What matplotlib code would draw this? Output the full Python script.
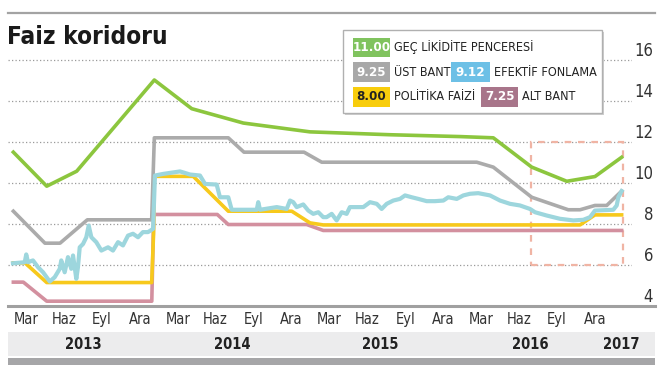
import matplotlib
matplotlib.use("Agg")
import matplotlib.pyplot as plt
import matplotlib.transforms as mtransforms
from matplotlib.patches import Rectangle

# x values are months since January 2013 (2.0 = March 2013)
gec_x = [1.0, 3.64, 6.01, 12.15, 15.11, 19.19, 24.46, 30.79, 36.33, 38.96, 42.0, 44.77, 47.0, 49.11]
gec_y = [11.48, 9.82, 10.55, 15.0, 13.6, 12.9, 12.47, 12.33, 12.24, 12.18, 10.75, 10.06, 10.29, 11.23]

ust_x = [1.0, 3.5, 4.69, 6.85, 11.94, 12.15, 18.0, 19.24, 23.99, 25.39, 37.65, 38.96, 42.0, 44.89, 45.82, 47.0, 47.93, 49.11]
ust_y = [8.6, 7.04, 7.04, 8.18, 8.18, 12.18, 12.18, 11.48, 11.48, 10.99, 10.99, 10.75, 9.28, 8.67, 8.67, 8.88, 8.88, 9.58]

pol_x = [1.0, 1.92, 3.64, 11.94, 12.09, 12.15, 15.23, 18.0, 23.02, 24.46, 25.51, 45.82, 47.0, 49.11]
pol_y = [6.08, 6.08, 5.12, 5.12, 7.5, 10.3, 10.3, 8.6, 8.6, 8.03, 7.93, 7.93, 8.42, 8.42]

alt_x = [1.0, 1.79, 3.64, 11.95, 12.1, 17.13, 18.0, 24.2, 25.51, 49.11]
alt_y = [5.14, 5.14, 4.21, 4.21, 8.44, 8.44, 7.95, 7.95, 7.66, 7.66]

efk_x = [0.97, 1.90, 2.02, 2.16, 2.55, 2.95, 3.35, 3.88, 4.27, 4.67, 4.79, 5.06, 5.32, 5.58,
         5.72, 5.98, 6.11, 6.25, 6.51, 6.77, 6.96, 7.17, 7.56, 7.96, 8.49, 8.88, 9.28, 9.67,
         10.07, 10.46, 10.86, 11.25, 11.65, 12.05, 12.2, 12.86, 14.18, 14.97, 15.76, 16.16,
         17.08, 17.34, 18.0, 18.27, 20.25, 20.37, 20.51, 21.83, 22.62, 22.88, 23.14, 23.41,
         23.93, 24.33, 24.72, 25.12, 25.51, 25.78, 26.18, 26.57, 26.97, 27.36, 27.62, 28.15,
         28.68, 29.21, 29.74, 30.13, 30.53, 31.05, 31.58, 31.98, 32.51, 33.03, 33.69, 34.35,
         35.01, 35.40, 36.07, 36.59, 37.12, 37.77, 38.70, 39.49, 40.28, 41.07, 41.86, 42.26,
         43.18, 44.23, 45.29, 46.08, 46.61, 47.0, 48.45, 48.72, 48.85, 49.11]
efk_y = [6.06, 6.11, 6.49, 6.11, 6.2, 5.87, 5.62, 5.17, 5.38, 5.79, 6.2, 5.62, 6.36, 5.79,
         6.44, 5.3, 5.87, 6.84, 7.0, 7.33, 7.9, 7.33, 7.09, 6.68, 6.84, 6.68, 7.09, 6.93,
         7.41, 7.5, 7.33, 7.58, 7.58, 7.74, 10.34, 10.42, 10.54, 10.39, 10.34, 9.93,
         9.9, 9.28, 9.28, 8.67, 8.67, 9.04, 8.67, 8.8, 8.71, 9.12, 9.04, 8.8,
         8.93, 8.63, 8.47, 8.55, 8.31, 8.31, 8.47, 8.15, 8.55, 8.47, 8.8, 8.8,
         8.8, 9.04, 8.96, 8.71, 8.96, 9.12, 9.2, 9.37, 9.28, 9.2, 9.09, 9.09,
         9.12, 9.28, 9.2, 9.37, 9.45, 9.48, 9.37, 9.12, 8.96, 8.88, 8.71, 8.55,
         8.39, 8.23, 8.15, 8.18, 8.31, 8.63, 8.67, 8.88, 9.28, 9.58]

month_pos = [2, 5, 8, 11, 14, 17, 20, 23, 26, 29, 32, 35, 38, 41, 44, 47]
month_labels = ["Mar", "Haz", "Eyl", "Ara"] * 4
year_pos = [6.5, 18.3, 30.05, 41.9, 49.05]
year_labels = ["2013", "2014", "2015", "2016", "2017"]
y_ticks = [4, 6, 8, 10, 12, 14, 16]

legend_rows = [
    [("11.00", "GEÇ LİKİDİTE PENCERESİ", "#80c35e", "white")],
    [("9.25", "ÜST BANT", "#a8a8a8", "white"), ("9.12", "EFEKTİF FONLAMA", "#6dc0e6", "white")],
    [("8.00", "POLİTİKA FAİZİ", "#f8cd0c", "#222222"), ("7.25", "ALT BANT", "#a8758a", "white")],
]

FONT = "DejaVu Sans"
STRETCH = "condensed"
W, H = 666, 383


def fx(x):
    return x / W


def fy(y):
    return 1 - y / H


fig = plt.figure(figsize=(6.66, 3.83), dpi=100)
ax = fig.add_axes([fx(8), fy(305.5), (632 - 8) / W, 256.25 / H])
ax.set_xlim(0.577, 49.93)
ax.set_ylim(4, 16.5)
ax.set_frame_on(False)
ax.set_yticks([])

for v in y_ticks[1:]:
    ax.axhline(v, color="#9a9a9a", lw=0.9, ls=(0, (1, 1.8)), zorder=1)

ax.plot(alt_x, alt_y, color="#d3909f", lw=2.6, zorder=3, solid_joinstyle="round")
ax.plot(pol_x, pol_y, color="#f7c91c", lw=2.6, zorder=3, solid_joinstyle="round")
ax.plot(ust_x, ust_y, color="#ababab", lw=2.6, zorder=3, solid_joinstyle="round")
ax.plot(gec_x, gec_y, color="#8cc63e", lw=2.6, zorder=4, solid_joinstyle="round")
ax.plot(efk_x, efk_y, color="#9dd6dd", lw=3.0, zorder=5, solid_joinstyle="round")

# dashed frame round the last months
ax.add_patch(Rectangle((41.95, 6), 49.2 - 41.95, 6, fill=False, ec="#f0b4a4",
                       lw=1.6, ls=(0, (3, 3)), zorder=2))

ax.set_xticks(month_pos)
ax.set_xticklabels(month_labels, family=FONT, stretch=STRETCH, fontsize=10.5, color="#333333")
ax.tick_params(axis="x", length=0, pad=5)

# right-hand value labels
ytrans = mtransforms.offset_copy(
    mtransforms.blended_transform_factory(fig.transFigure, ax.transData),
    fig=fig, y=2.5, units="points")
for v in y_ticks:
    ax.text(fx(653), v, str(v), transform=ytrans, ha="right", va="baseline",
            family=FONT, stretch=STRETCH, fontsize=12, color="#333333")

# lines and bands (drawn under the axes)
fig.add_artist(plt.Line2D([fx(8), fx(655)], [fy(13), fy(13)], color="#a3a3a3", lw=1.6, zorder=-1))
fig.add_artist(plt.Line2D([fx(8), fx(655)], [fy(306), fy(306)], color="#a0a0a0", lw=2.2, zorder=-1))
fig.add_artist(Rectangle((fx(8), fy(356)), (655 - 8) / W, 24 / H, transform=fig.transFigure,
                         fc="#ececed", ec="none", zorder=-2))
fig.add_artist(Rectangle((fx(8), fy(364.5)), (655 - 8) / W, 6.5 / H, transform=fig.transFigure,
                         fc="#a6a6a8", ec="none", zorder=-2))

xtrans = mtransforms.blended_transform_factory(ax.transData, fig.transFigure)
for pos, lab in zip(year_pos, year_labels):
    ax.text(pos, fy(344.5), lab, transform=xtrans, ha="center", va="center",
            family=FONT, stretch=STRETCH, fontsize=10.5, fontweight="bold",
            color="#222222", clip_on=False)

fig.text(fx(7), fy(37), "Faiz koridoru", family=FONT, stretch=STRETCH, fontsize=17.5,
         fontweight="bold", color="#1a1a1a", ha="left", va="center")

# legend panel
fig.add_artist(Rectangle((fx(345), fy(115)), (602 - 343) / W, (113 - 30) / H,
                         transform=fig.transFigure, fc="#cfcfcf", ec="none", zorder=5))
fig.add_artist(Rectangle((fx(343), fy(113)), (602 - 343) / W, (113 - 30) / H,
                         transform=fig.transFigure, fc="white", ec="#b0b0b0", lw=1, zorder=6))
row_y = [47.5, 72, 97]
col_box = [[353], [353, 451], [353, 481]]
for r, entries in enumerate(legend_rows):
    for c, (num, label, col, tcol) in enumerate(entries):
        bx = col_box[r][c]
        bw = 37 if bx != 451 else 39
        fig.add_artist(Rectangle((fx(bx), fy(row_y[r] + 9.5)), bw / W, 19 / H,
                                 transform=fig.transFigure, fc=col, ec="none", zorder=7))
        fig.text(fx(bx + bw / 2), fy(row_y[r]), num, family=FONT, stretch=STRETCH,
                 fontsize=9.5, fontweight="bold", color=tcol, ha="center", va="center", zorder=8)
        fig.text(fx(bx + bw + 3.5), fy(row_y[r]), label, family=FONT, stretch=STRETCH,
                 fontsize=9, color="#222222", ha="left", va="center", zorder=8)

fig.savefig("out.png", dpi=100)
